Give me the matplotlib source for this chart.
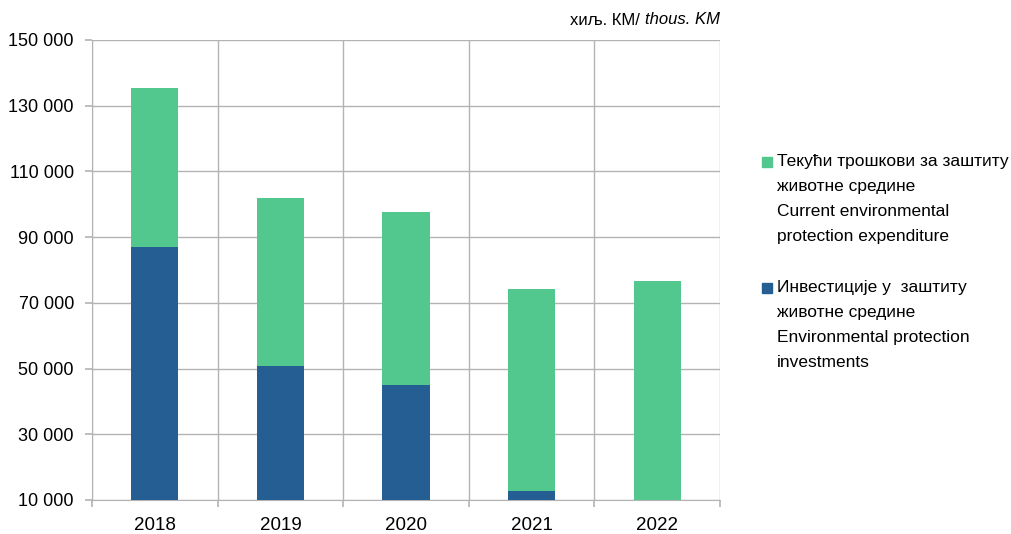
import matplotlib.pyplot as plt
from matplotlib.patches import Rectangle
import numpy as np

# data (хиљ. КМ)
years = ['2018', '2019', '2020', '2021', '2022']
investments = [87000, 50800, 45000, 12700, 9600]
current_exp = [48400, 51100, 52600, 61500, 67000]  # stacked on top of investments

green = '#52C78E'
blue = '#255E92'
grid_c = '#B3B3B3'

plt.rcParams['font.family'] = ['Liberation Sans', 'DejaVu Sans']

fig = plt.figure(figsize=(10.11, 5.34), dpi=100)
ax = fig.add_axes([92 / 1011, 34 / 534, 628 / 1011, 460 / 534])

x = np.arange(len(years))
ax.bar(x, investments, width=0.375, color=blue, zorder=3)
ax.bar(x, current_exp, width=0.375, bottom=investments, color=green, zorder=3)

ax.set_ylim(10000, 150000)
ax.set_yticks(np.arange(10000, 150001, 20000))
ax.set_yticklabels([f'{v:,}'.replace(',', ' ') for v in range(10000, 150001, 20000)])
ax.set_xlim(-0.5, len(years) - 0.5)
ax.set_xticks(x)
ax.set_xticklabels(years)
ax.set_xticks(np.arange(-0.5, len(years)), minor=True)

ax.grid(axis='y', color=grid_c, lw=1, zorder=0)
ax.grid(axis='x', which='minor', color=grid_c, lw=1, zorder=0)
for s in ax.spines.values():
    s.set_color(grid_c)
ax.spines['top'].set_visible(False)
ax.spines['right'].set_visible(False)
ax.tick_params(axis='y', colors=grid_c, labelcolor='black', labelsize=13, length=5, width=1.2, pad=8)
ax.tick_params(axis='x', which='major', length=0, labelsize=13.5, pad=12, labelcolor='black')
ax.tick_params(axis='x', which='minor', colors=grid_c, length=5, width=1.2)

fig.text(720 / 1011, 1 - 20 / 534, 'хиљ. КМ/ ', ha='right', va='center', fontsize=12)
t = fig.text(720 / 1011, 1 - 20 / 534, 'thous. KM', ha='right', va='center', fontsize=12, style='italic')
fig.canvas.draw()
bb = t.get_window_extent()
fig.texts[0].set_x(bb.x0 / 1011)

# legend drawn by hand so the marker sits on the first text line
labels = ['Текући трошкови за заштиту\nживотне средине\nCurrent environmental\nprotection expenditure',
          'Инвестиције у  заштиту\nживотне средине\nEnvironmental protection\ninvestments']
for lab, col, ytop in zip(labels, [green, blue], [154, 280]):
    fig.patches.append(Rectangle((762 / 1011, 1 - (ytop + 13) / 534), 10 / 1011, 10 / 534,
                                 transform=fig.transFigure, color=col))
    fig.text(777 / 1011, 1 - ytop / 534, lab, ha='left', va='top', fontsize=12.5, linespacing=1.82)

fig.savefig('out.png', dpi=100)
